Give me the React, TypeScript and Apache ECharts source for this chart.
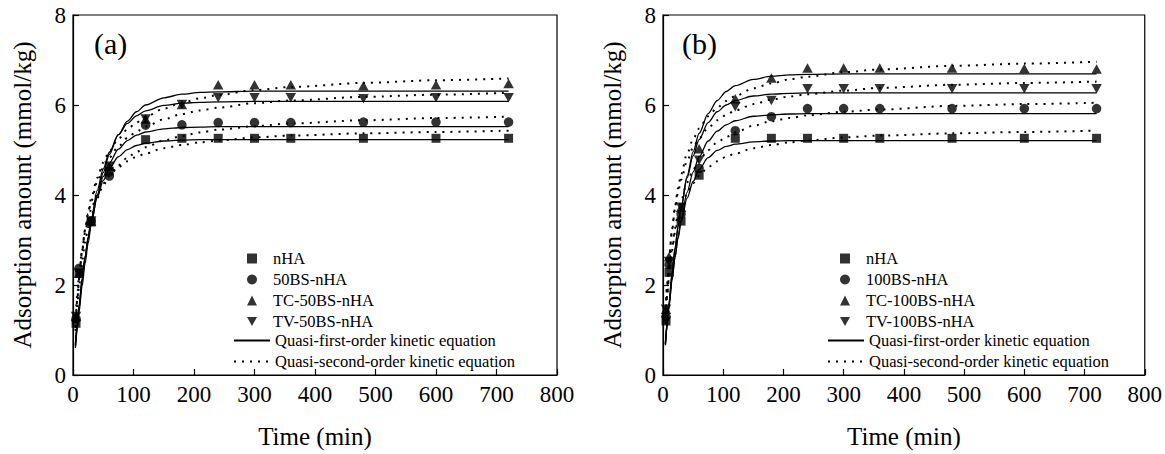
import React, { useEffect, useRef } from "react";
import * as echarts from "echarts";

const FONT = "Liberation Serif";

// Measured time points (min)
const TIME = [5, 10, 30, 60, 120, 180, 240, 300, 360, 480, 600, 720];
// Sample points (min)
const CURVE_T = [4, 7, 10, 15, 20, 25, 30, 40, 50, 60, 75, 90, 105, 120, 150, 180, 210, 240, 300, 360, 480, 600, 720];

const X_TICKS = [0, 100, 200, 300, 400, 500, 600, 700, 800];
const Y_TICKS = [0, 2, 4, 6, 8];

const FIRST_NAME = "Quasi-first-order kinetic equation";
const SECOND_NAME = "Quasi-second-order kinetic equation";

// Panel (a)
const A_NAMES = ["nHA", "50BS-nHA", "TC-50BS-nHA", "TV-50BS-nHA"];
const A_NHA = [1.15, 2.26, 3.4, 4.53, 5.23, 5.26, 5.26, 5.26, 5.26, 5.26, 5.26, 5.26];
const A_50BS = [1.25, 2.37, 3.42, 4.42, 5.55, 5.56, 5.61, 5.61, 5.61, 5.62, 5.62, 5.62];
const A_TC = [1.3, 2.26, 3.42, 4.64, 5.69, 6.01, 6.45, 6.45, 6.45, 6.43, 6.45, 6.48];
const A_TV = [1.3, 2.26, 3.42, 4.64, 5.69, 6.01, 6.16, 6.16, 6.16, 6.14, 6.16, 6.16];

const A_FIRST_NHA = [0.68, 1.14, 1.54, 2.14, 2.63, 3.05, 3.4, 3.94, 4.32, 4.59, 4.85, 5.01, 5.1, 5.15, 5.2, 5.22, 5.23, 5.23, 5.23, 5.23, 5.23, 5.23, 5.23];
const A_FIRST_50BS = [0.66, 1.11, 1.51, 2.1, 2.61, 3.04, 3.41, 3.99, 4.41, 4.71, 5.02, 5.21, 5.33, 5.4, 5.47, 5.5, 5.51, 5.52, 5.52, 5.52, 5.52, 5.52, 5.52];
const A_FIRST_TC = [0.6, 1.01, 1.4, 1.97, 2.48, 2.93, 3.33, 3.99, 4.5, 4.9, 5.34, 5.64, 5.85, 6.0, 6.16, 6.24, 6.28, 6.29, 6.31, 6.31, 6.31, 6.31, 6.31];
const A_FIRST_TV = [0.64, 1.08, 1.48, 2.09, 2.61, 3.06, 3.46, 4.1, 4.58, 4.95, 5.34, 5.59, 5.76, 5.87, 5.99, 6.04, 6.06, 6.07, 6.08, 6.08, 6.08, 6.08, 6.08];

const A_SECOND_NHA = [1.17, 1.76, 2.22, 2.77, 3.17, 3.46, 3.69, 4.03, 4.26, 4.43, 4.62, 4.75, 4.85, 4.92, 5.04, 5.11, 5.17, 5.21, 5.28, 5.32, 5.37, 5.4, 5.43];
const A_SECOND_50BS = [0.98, 1.53, 1.97, 2.53, 2.95, 3.28, 3.54, 3.93, 4.21, 4.43, 4.66, 4.83, 4.96, 5.06, 5.21, 5.31, 5.39, 5.45, 5.53, 5.59, 5.66, 5.71, 5.74];
const A_SECOND_TC = [1.04, 1.64, 2.12, 2.75, 3.23, 3.61, 3.92, 4.38, 4.72, 4.97, 5.25, 5.46, 5.61, 5.74, 5.92, 6.05, 6.15, 6.22, 6.33, 6.4, 6.49, 6.55, 6.59];
const A_SECOND_TV = [1.07, 1.67, 2.15, 2.76, 3.22, 3.58, 3.86, 4.29, 4.6, 4.83, 5.08, 5.27, 5.41, 5.52, 5.68, 5.8, 5.88, 5.94, 6.04, 6.1, 6.18, 6.23, 6.27];

// Panel (b)
const B_NAMES = ["nHA", "100BS-nHA", "TC-100BS-nHA", "TV-100BS-nHA"];
const B_NHA = [1.2, 2.28, 3.42, 4.44, 5.26, 5.26, 5.26, 5.26, 5.26, 5.26, 5.26, 5.26];
const B_100BS = [1.3, 2.45, 3.58, 4.59, 5.43, 5.74, 5.92, 5.92, 5.92, 5.92, 5.92, 5.92];
const B_TC = [1.46, 2.63, 3.73, 5.03, 6.14, 6.6, 6.82, 6.82, 6.82, 6.82, 6.81, 6.8];
const B_TV = [1.46, 2.52, 3.73, 4.77, 5.96, 6.1, 6.36, 6.36, 6.36, 6.36, 6.36, 6.36];

const B_FIRST_NHA = [0.68, 1.13, 1.54, 2.13, 2.62, 3.04, 3.39, 3.93, 4.3, 4.57, 4.83, 4.99, 5.08, 5.13, 5.18, 5.2, 5.21, 5.21, 5.21, 5.21, 5.21, 5.21, 5.21];
const B_FIRST_100BS = [0.66, 1.1, 1.51, 2.11, 2.62, 3.07, 3.45, 4.06, 4.51, 4.85, 5.2, 5.42, 5.56, 5.65, 5.75, 5.78, 5.8, 5.81, 5.81, 5.81, 5.81, 5.81, 5.81];
const B_FIRST_TC = [0.69, 1.15, 1.58, 2.23, 2.79, 3.28, 3.71, 4.42, 4.96, 5.37, 5.81, 6.1, 6.3, 6.43, 6.57, 6.64, 6.67, 6.68, 6.69, 6.69, 6.69, 6.69, 6.69];
const B_FIRST_TV = [0.71, 1.19, 1.62, 2.27, 2.83, 3.31, 3.72, 4.38, 4.87, 5.23, 5.61, 5.85, 6.0, 6.1, 6.2, 6.24, 6.26, 6.27, 6.27, 6.27, 6.27, 6.27, 6.27];

const B_SECOND_NHA = [1.17, 1.76, 2.22, 2.77, 3.17, 3.46, 3.69, 4.03, 4.26, 4.43, 4.62, 4.75, 4.85, 4.92, 5.04, 5.11, 5.17, 5.21, 5.28, 5.32, 5.37, 5.4, 5.43];
const B_SECOND_100BS = [1.13, 1.74, 2.21, 2.82, 3.26, 3.6, 3.88, 4.28, 4.56, 4.77, 5.0, 5.17, 5.29, 5.39, 5.54, 5.64, 5.71, 5.77, 5.85, 5.9, 5.98, 6.02, 6.05];
const B_SECOND_TC = [1.3, 2.0, 2.55, 3.24, 3.75, 4.15, 4.46, 4.92, 5.24, 5.48, 5.75, 5.94, 6.09, 6.2, 6.37, 6.48, 6.57, 6.63, 6.73, 6.79, 6.87, 6.92, 6.96];
const B_SECOND_TV = [1.33, 2.03, 2.56, 3.22, 3.7, 4.06, 4.34, 4.76, 5.05, 5.26, 5.49, 5.66, 5.78, 5.88, 6.02, 6.12, 6.19, 6.24, 6.32, 6.38, 6.45, 6.49, 6.52];

const DOWN_TRI = "path://M0,0L10,0L5,9Z";
const SYMBOLS: any[] = ["rect", "circle", "triangle", DOWN_TRI];
const SYMBOL_SIZES: any[] = [9, 9.5, [10.5, 9.5], [10.5, 9.5]];

function pairs(xs: number[], ys: number[]) {
  return xs.map((x, i) => [x, ys[i]]);
}

function curve(gi: number, name: string, ys: number[], lineStyle: any) {
  return {
    type: "line",
    name,
    xAxisIndex: gi,
    yAxisIndex: gi,
    data: pairs(CURVE_T, ys),
    smooth: 0.3,
    smoothMonotone: "x",
    symbol: "none",
    itemStyle: { color: "#000" },
    lineStyle,
    z: 2,
  };
}

function panelSeries(gi: number, names: string[], pts: number[][], first: number[][], second: number[][]) {
  const out: any[] = [];
  first.forEach((ys) => out.push(curve(gi, FIRST_NAME, ys, { color: "#000", width: 1.3, type: "solid" })));
  second.forEach((ys) => out.push(curve(gi, SECOND_NAME, ys, { color: "#000", width: 2, type: [2, 6] })));
  pts.forEach((ys, i) => {
    out.push({
      type: "scatter",
      name: names[i],
      xAxisIndex: gi,
      yAxisIndex: gi,
      data: pairs(TIME, ys),
      symbol: SYMBOLS[i],
      symbolSize: SYMBOL_SIZES[i],
      itemStyle: { color: "#000" },
      z: 5,
    });
  });
  return out;
}

function xAxis(gi: number) {
  return {
    type: "value",
    gridIndex: gi,
    min: X_TICKS[0],
    max: X_TICKS[X_TICKS.length - 1],
    interval: X_TICKS[1] - X_TICKS[0],
    axisLine: { lineStyle: { color: "#000", width: 1.2 } },
    axisTick: { inside: true, length: 6, lineStyle: { color: "#000", width: 1.2 } },
    axisLabel: { color: "#000", fontSize: 23, fontFamily: FONT, margin: 8 },
    splitLine: { show: false },
    name: "Time (min)",
    nameLocation: "middle",
    nameGap: 49,
    nameTextStyle: { color: "#000", fontSize: 25, fontFamily: FONT },
  };
}

function yAxis(gi: number) {
  return {
    type: "value",
    gridIndex: gi,
    min: Y_TICKS[0],
    max: Y_TICKS[Y_TICKS.length - 1],
    interval: Y_TICKS[1] - Y_TICKS[0],
    axisLine: { show: true, lineStyle: { color: "#000", width: 1.2 } },
    axisTick: { show: true, inside: true, length: 6, lineStyle: { color: "#000", width: 1.2 } },
    axisLabel: { color: "#000", fontSize: 23, fontFamily: FONT, margin: 7 },
    splitLine: { show: false },
    name: "Adsorption amount (mmol/kg)",
    nameLocation: "middle",
    nameGap: 38,
    nameTextStyle: { color: "#000", fontSize: 25, fontFamily: FONT },
  };
}

function markerLegend(left: number, names: string[]) {
  return {
    orient: "vertical",
    left,
    top: 245,
    itemWidth: 10,
    itemHeight: 10,
    itemGap: 4,
    textStyle: { color: "#000", fontSize: 16.5, fontFamily: FONT, lineHeight: 16, padding: [0, 0, 0, 11] },
    data: names,
    selectedMode: false,
  };
}

function lineLegend(left: number) {
  return {
    orient: "vertical",
    left,
    top: 327,
    itemWidth: 36,
    itemHeight: 10,
    itemGap: 4,
    itemStyle: { opacity: 0 },
    textStyle: { color: "#000", fontSize: 16.5, fontFamily: FONT, lineHeight: 16 },
    data: [FIRST_NAME, SECOND_NAME],
    selectedMode: false,
  };
}

export default function App() {
  const ref = useRef<HTMLDivElement>(null);
  useEffect(() => {
    if (!ref.current) return;
    const chart = echarts.init(ref.current, undefined, { renderer: "svg" });
    chart.setOption({
      animation: false,
      backgroundColor: "#fff",
      grid: [
        { left: 73, top: 15, width: 484, height: 365, show: true, borderColor: "#000", borderWidth: 1.2 },
        { left: 663, top: 15, width: 482, height: 365, show: true, borderColor: "#000", borderWidth: 1.2 },
      ],
      xAxis: [xAxis(0), xAxis(1)],
      yAxis: [yAxis(0), yAxis(1)],
      legend: [markerLegend(242, A_NAMES), lineLegend(228), markerLegend(835, B_NAMES), lineLegend(822)],
      graphic: [
        { type: "text", left: 94, top: 28, style: { text: "(a)", fontSize: 30, fontFamily: FONT, fill: "#000" } },
        { type: "text", left: 682, top: 28, style: { text: "(b)", fontSize: 30, fontFamily: FONT, fill: "#000" } },
      ],
      series: [
        ...panelSeries(0, A_NAMES, [A_NHA, A_50BS, A_TC, A_TV],
          [A_FIRST_NHA, A_FIRST_50BS, A_FIRST_TC, A_FIRST_TV],
          [A_SECOND_NHA, A_SECOND_50BS, A_SECOND_TC, A_SECOND_TV]),
        ...panelSeries(1, B_NAMES, [B_NHA, B_100BS, B_TC, B_TV],
          [B_FIRST_NHA, B_FIRST_100BS, B_FIRST_TC, B_FIRST_TV],
          [B_SECOND_NHA, B_SECOND_100BS, B_SECOND_TC, B_SECOND_TV]),
      ],
    });
    return () => chart.dispose();
  }, []);
  return (
    <div
      ref={ref}
      style={{ position: "fixed", left: 0, top: 0, width: 1165, height: 454, background: "#fff" }}
    />
  );
}
